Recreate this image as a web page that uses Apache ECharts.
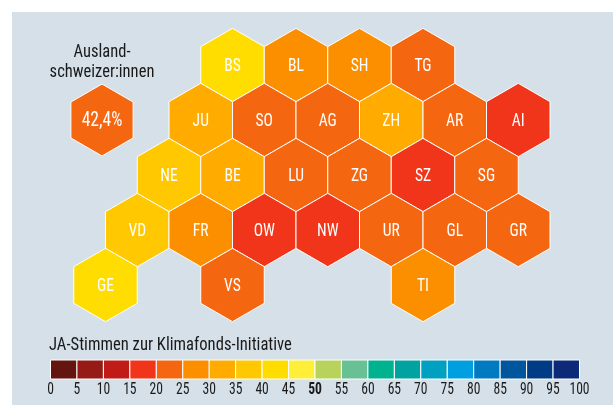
<!DOCTYPE html>
<html><head><meta charset="utf-8">
<style>html,body{margin:0;padding:0;background:#fff}#c{width:613px;height:405px}</style>
<script src="https://cdn.jsdelivr.net/npm/echarts@6/dist/echarts.min.js"></script>
</head><body><div id="c"></div>
<script>
const cantons = ['BS','BL','SH','TG','JU','SO','AG','ZH','AR','AI','NE','BE','LU','ZG','SZ','SG','VD','FR','OW','NW','UR','GL','GR','GE','VS','TI'];
const cols    = [4,6,8,10,3,5,7,9,11,13,2,4,6,8,10,12,1,3,5,7,9,11,13,0,4,10];
const rows    = [0,0,0,0,1,1,1,1,1,1,2,2,2,2,2,2,3,3,3,3,3,3,3,4,4,4];
const yesVotes= [42,27,27,23,32,23,23,32,23,18,37,32,23,23,18,23,37,27,18,18,23,23,23,42,23,27];
const abroadLabel = '42,4%';
const abroadVote = 23;
const abroadCol = -0.11;
const abroadRow = 1;
const bandColors = ['#65150f','#961b16','#c11b17','#f0351a','#f56611','#fb8f00','#ffab00','#ffc800','#ffdd00','#ffef38','#b8d35c','#68c095','#00b28f','#00a3a0','#00a0c0','#009fe0','#007ac0','#00569c','#003c85','#0d2a78'];
const bandStarts = [0,5,10,15,20,25,30,35,40,45,50,55,60,65,70,75,80,85,90,95];
const tickValues = [0,5,10,15,20,25,30,35,40,45,50,55,60,65,70,75,80,85,90,95,100];
const titleAbroad = ['Ausland-','schweizer:innen'];
const titleLegend = 'JA-Stimmen zur Klimafonds-Initiative';
const font = '"Liberation Sans Narrow","Roboto Condensed","Liberation Sans",sans-serif';
const bandColor = v => bandColors[Math.min(19, Math.floor(v / 5))];

function hexItem(params, api) {
  const c = api.coord([api.value(0), api.value(1)]);
  const s = api.size([1, 1]);
  const k = api.value(4);
  const w = s[0] * k, R = s[0] * 2 / Math.sqrt(3) * k;
  const pts = [[c[0], c[1]-R],[c[0]+w, c[1]-R/2],[c[0]+w, c[1]+R/2],[c[0], c[1]+R],[c[0]-w, c[1]+R/2],[c[0]-w, c[1]-R/2]];
  return {
    type: 'group',
    children: [
      { type: 'polygon', shape: { points: pts }, style: { fill: bandColor(api.value(2)), stroke: '#fff', lineWidth: 1 } },
      { type: 'text', x: c[0], y: c[1] + 1, scaleX: api.value(6),
        style: { x: 0, y: 0, text: api.value(3), fill: '#fff', font: api.value(5) + 'px ' + font, align: 'center', verticalAlign: 'middle' } }
    ]
  };
}
const hexData = cantons.map((n, i) => [cols[i], rows[i], yesVotes[i], n, 1, 19, 0.82]);
hexData.push([abroadCol, abroadRow, abroadVote, abroadLabel, 0.98, 20, 0.88]);

const titleText = (text, x, y, sx, align) => ({
  type: 'text', x, y, scaleX: sx, z: 5, silent: true,
  style: { x: 0, y: 0, text, fill: '#1a1a1a', font: '19px ' + font, align, verticalAlign: 'middle' }
});

const chart = echarts.init(document.getElementById('c'), null, { renderer: 'canvas' });
chart.setOption({
  animation: false,
  backgroundColor: '#fff',
  graphic: [
    { type: 'rect', z: -10, silent: true, shape: { x: 12, y: 12, width: 601, height: 393 }, style: { fill: '#d5e0e9' } },
    titleText(titleAbroad[0], 102, 52, 0.87, 'center'),
    titleText(titleAbroad[1], 102, 72, 0.87, 'center'),
    titleText(titleLegend, 49, 345, 0.875, 'left')
  ],
  grid: [
    { left: 73.75, right: 94.75, top: 65, height: 220 },
    { left: 50.5, right: 33.5, top: 360, height: 19 }
  ],
  xAxis: [
    { gridIndex: 0, type: 'value', min: -1, max: 13, show: false },
    { gridIndex: 1, type: 'value', min: 0, max: 100, interval: 5, show: false }
  ],
  yAxis: [
    { gridIndex: 0, type: 'value', min: 0, max: 4, inverse: true, show: false },
    { gridIndex: 1, type: 'value', min: 0, max: 1, show: false }
  ],
  series: [
    { type: 'custom', xAxisIndex: 0, yAxisIndex: 0, clip: false, silent: true, renderItem: hexItem, data: hexData, encode: { x: 0, y: 1 }, dimensions: ['c','r','v',{name:'n',type:'ordinal'},'k','f','s'] },
    { type: 'custom', xAxisIndex: 1, yAxisIndex: 1, silent: true, clip: false,
      renderItem(params, api) {
        const a = api.coord([api.value(0), 1]);
        const b = api.coord([api.value(0) + 5, 0]);
        return { type: 'rect', shape: { x: a[0], y: a[1], width: b[0]-a[0], height: b[1]-a[1] }, style: { fill: bandColors[params.dataIndex], stroke: '#fff', lineWidth: 1 } };
      },
      data: bandStarts.map(v => [v]), encode: { x: 0 } },
    { type: 'custom', xAxisIndex: 1, yAxisIndex: 1, silent: true, clip: false,
      renderItem(params, api) {
        const v = api.value(0);
        const a = api.coord([v, 0]);
        return { type: 'text', x: a[0], y: a[1] + 10.5, scaleX: 0.8,
          style: { x: 0, y: 0, text: String(v), fill: '#1a1a1a', font: (v === 50 ? 'bold ' : '') + '17px ' + font, align: 'center', verticalAlign: 'middle' } };
      },
      data: tickValues.map(v => [v]), encode: { x: 0 } }
  ]
});
</script></body></html>
